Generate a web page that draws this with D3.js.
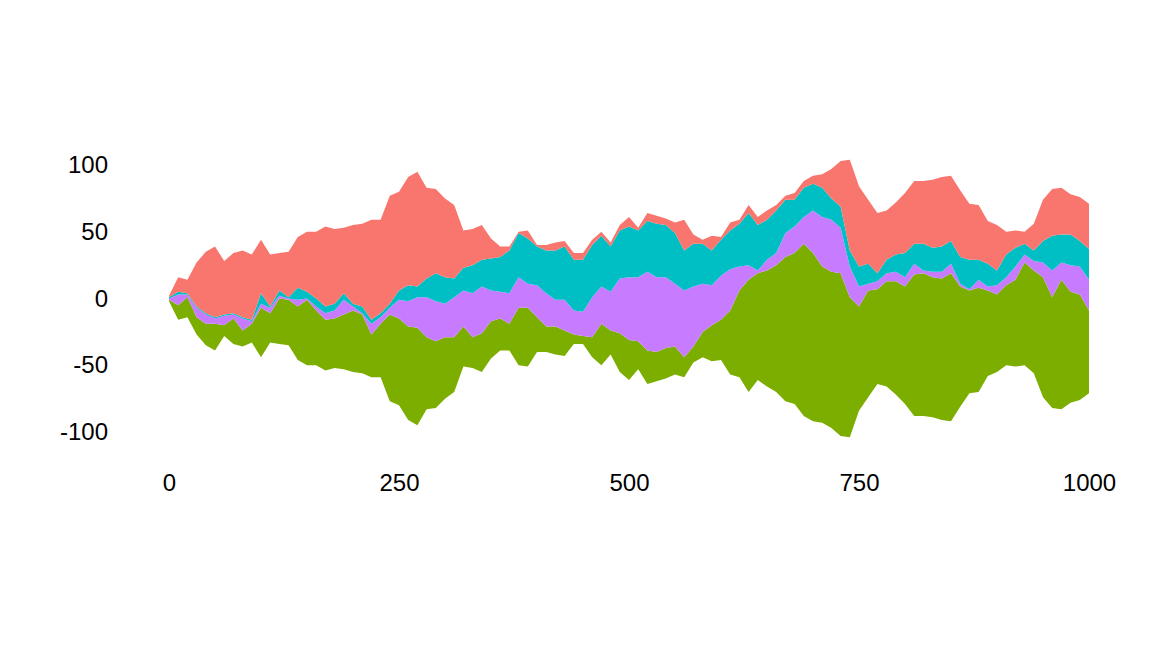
<!DOCTYPE html>
<html>
<head>
<meta charset="utf-8">
<script src="https://cdn.jsdelivr.net/npm/d3@7"></script>
<style>
  html, body { margin: 0; padding: 0; background: #ffffff; }
  svg { display: block; }
  text { font-family: "Liberation Sans", Arial, sans-serif; }
</style>
</head>
<body>
<svg id="chart" width="1152" height="672"></svg>
<script>
// time index (every 10th step of 0..1000)
const steps = d3.range(0, 1001, 10);

// layer thicknesses (bottom -> top)
const green = [1,11,15,13,16,20,8,19,12,14,37,22,34,34,40,49,41,38,37,41,46,44,32,40,65,65,70,73,54,50,46,41,30,23,29,28,24,20,43,44,26,19,21,19,7,6,15,31,18,29,30,21,25,22,23,21,15,12,19,27,30,48,65,84,80,87,95,108,113,129,126,117,117,122,105,78,80,71,79,85,88,106,107,105,106,111,90,77,78,64,58,60,65,77,77,90,83,97,83,79,62];
const purple = [1,8,2,7,7,4,7,3,9,2,3,4,2,1,5,1,3,5,6,11,3,1,8,5,5,14,19,23,30,30,25,30,27,33,35,23,20,23,23,18,24,25,20,23,18,18,30,28,29,41,47,48,59,56,53,47,50,45,36,30,33,31,18,11,2,8,9,18,20,20,32,37,39,34,23,15,5,6,6,7,7,8,2,4,5,7,2,1,6,3,7,6,10,6,7,11,20,13,20,21,23];
const cyan = [1,2,1,1,1,1,1,1,1,1,8,1,4,1,9,5,6,5,5,5,2,5,3,3,3,7,12,8,14,21,20,14,17,21,20,24,26,32,33,34,29,32,37,40,38,39,39,38,34,36,38,35,38,40,39,38,30,32,30,26,27,29,32,39,34,30,32,25,20,22,20,22,16,16,12,15,15,6,10,13,18,15,20,18,19,17,20,22,15,17,11,17,14,8,8,16,26,21,23,19,23];
const red = [1,11,10,33,46,53,40,45,50,49,40,39,28,34,38,45,50,60,56,49,59,62,75,70,81,74,81,86,68,63,59,55,28,27,26,15,8,3,1,6,1,4,6,4,5,5,4,3,3,4,7,2,6,6,5,8,23,7,3,11,2,6,3,6,6,7,4,3,5,5,6,10,22,34,68,60,48,45,37,39,45,47,47,51,52,49,50,42,41,32,34,17,13,9,20,31,35,35,30,33,34];

const seriesNames = ["green", "purple", "cyan", "red"];
const seriesColors = ["#7CAE00", "#C77CFF", "#00BFC4", "#F8766D"];
const xTicks = [0, 250, 500, 750, 1000];
const yTicks = [-100, -50, 0, 50, 100];

const table = steps.map((s, i) => ({
  step: s, green: green[i], purple: purple[i], cyan: cyan[i], red: red[i]
}));

const svg = d3.select("#chart");
const x = d3.scaleLinear().domain([0, 1000]).range([169, 1089]);
const y = d3.scaleLinear().domain([-100, 100]).range([432, 165]);

const stack = d3.stack()
  .keys(seriesNames)
  .order(d3.stackOrderNone)
  .offset(d3.stackOffsetSilhouette);
const layers = stack(table);

const area = d3.area()
  .x(d => x(d.data.step))
  .y0(d => y(d[0]))
  .y1(d => y(d[1]))
  .curve(d3.curveLinear);

svg.append("g").selectAll("path")
  .data(layers)
  .join("path")
  .attr("d", area)
  .attr("fill", (d, i) => seriesColors[i]);

const fmt = d => String(d);

// axes (text only)
const xAxis = d3.axisBottom(x).tickValues(xTicks).tickFormat(fmt).tickSize(0).tickPadding(0);
const gx = svg.append("g").attr("transform", "translate(0,474)").call(xAxis);
gx.select(".domain").remove();
gx.selectAll("text").attr("font-size", 24).attr("fill", "#000").attr("dy", "0.71em")
  .style("font-family", '"Liberation Sans", Arial, sans-serif');

const yAxis = d3.axisLeft(y).tickValues(yTicks).tickFormat(fmt).tickSize(0).tickPadding(0);
const gy = svg.append("g").attr("transform", "translate(108,0)").call(yAxis);
gy.select(".domain").remove();
gy.selectAll("text").attr("font-size", 24).attr("fill", "#000")
  .style("font-family", '"Liberation Sans", Arial, sans-serif');
</script>
</body>
</html>
